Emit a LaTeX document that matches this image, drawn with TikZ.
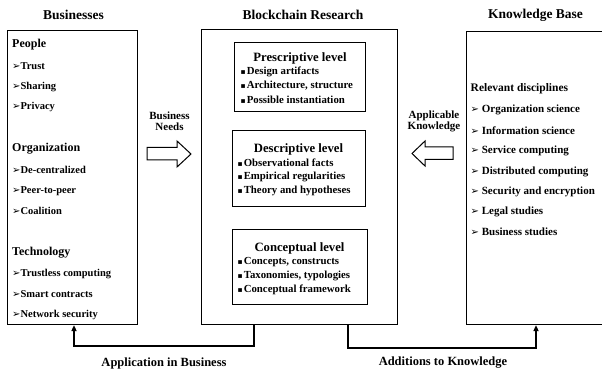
\documentclass[tikz,border=0pt]{standalone}
\usepackage{fontspec}
\setmainfont{Liberation Serif}
\newfontfamily\dejavu{DejaVu Sans}
\usetikzlibrary{arrows.meta}
\newcommand\arrmark{{\dejavu\fontsize{10}{10}\selectfont ➢}}
\newcommand\bltmark{{\dejavu\fontsize{7.5}{7.5}\selectfont ▪}\kern1pt}
\tikzset{
  box/.style={draw, line width=1.1pt, inner sep=0},
  ttl/.style={font=\fontsize{13.5}{15}\selectfont\bfseries, inner sep=0},
  hd/.style={font=\fontsize{12}{14}\selectfont\bfseries, anchor=west, inner sep=0},
  itm/.style={font=\fontsize{10.5}{12}\selectfont\bfseries, anchor=west, inner sep=0},
  mitm/.style={font=\fontsize{10.8}{12}\selectfont\bfseries, anchor=west, inner sep=0},
  kitm/.style={font=\fontsize{11}{13}\selectfont\bfseries, anchor=west, inner sep=0},
  lvl/.style={font=\fontsize{12.7}{14}\selectfont\bfseries, inner sep=0},
  lab/.style={font=\fontsize{11}{13}\selectfont\bfseries, align=center, inner sep=0},
  blab/.style={font=\fontsize{12.5}{14}\selectfont\bfseries, inner sep=0},
  conn/.style={line width=2pt, -{Triangle[length=6pt,width=5pt]}},
  barrow/.style={draw, line width=1pt, fill=white}
}
\begin{document}
\begin{tikzpicture}[x=1pt,y=-1pt]
\useasboundingbox (0,0) rectangle (602,374);
% titles
\node[ttl] (t1) at (73.5,15) {Businesses};
\node[ttl] (t2) at (303,15) {Blockchain Research};
\node[ttl] (t3) at (535.5,15) {Knowledge Base};
% main boxes
\node[box, anchor=north west, minimum width=130pt, minimum height=294pt] (biz) at (7,30) {};
\node[box, anchor=north west, minimum width=196pt, minimum height=295pt] (mid) at (201,29) {};
\node[box, anchor=north west, minimum width=150pt, minimum height=293pt] (kb) at (466,31) {};
% left box contents
\node[hd] (p0) at (12,45) {People};
\node[itm] (p1) at (12,66) {\arrmark Trust};
\node[itm] (p2) at (12,87) {\arrmark Sharing};
\node[itm] (p3) at (12,107) {\arrmark Privacy};
\node[hd] (o0) at (12,149) {Organization};
\node[itm] (o1) at (12,170) {\arrmark De-centralized};
\node[itm] (o2) at (12,191) {\arrmark Peer-to-peer};
\node[itm] (o3) at (12,211) {\arrmark Coalition};
\node[hd] (c0) at (12,253) {Technology};
\node[itm] (c1) at (12,274) {\arrmark Trustless computing};
\node[itm] (c2) at (12,294) {\arrmark Smart contracts};
\node[itm] (c3) at (12,315) {\arrmark Network security};
% inner boxes
\node[box, anchor=north west, minimum width=131pt, minimum height=69pt] (pres) at (234,42) {};
\node[box, anchor=north west, minimum width=133pt, minimum height=76pt] (desc) at (232,130) {};
\node[box, anchor=north west, minimum width=135pt, minimum height=75pt] (conc) at (232,229) {};
\node[lvl] (pr0) at (300,58) {Prescriptive level};
\node[mitm] (pr1) at (240.5,72) {\bltmark Design artifacts};
\node[mitm] (pr2) at (240.5,86) {\bltmark Architecture, structure};
\node[mitm] (pr3) at (240.5,99.5) {\bltmark Possible instantiation};
\node[lvl] (de0) at (298.5,149) {Descriptive level};
\node[mitm] (de1) at (237.5,163) {\bltmark Observational facts};
\node[mitm] (de2) at (237.5,177) {\bltmark Empirical regularities};
\node[mitm] (de3) at (237.5,191) {\bltmark Theory and hypotheses};
\node[lvl] (co0) at (299.5,248) {Conceptual level};
\node[mitm] (co1) at (237.5,262) {\bltmark Concepts, constructs};
\node[mitm] (co2) at (237.5,276) {\bltmark Taxonomies, typologies};
\node[mitm] (co3) at (237.5,289.5) {\bltmark Conceptual framework};
% right box contents
\node[hd, font=\fontsize{11.5}{13}\selectfont\bfseries] (k0) at (470.5,89) {Relevant disciplines};
\node[kitm] (k1) at (470.5,110) {\arrmark\ Organization science};
\node[kitm] (k2) at (470.5,130.5) {\arrmark\ Information science};
\node[kitm] (k3) at (470.5,151) {\arrmark\ Service computing};
\node[kitm] (k4) at (470.5,171.5) {\arrmark\ Distributed computing};
\node[kitm] (k5) at (470.5,192) {\arrmark\ Security and encryption};
\node[kitm] (k6) at (470.5,212) {\arrmark\ Legal studies};
\node[kitm] (k7) at (470.5,232) {\arrmark\ Business studies};
% block arrows
\draw[barrow] (147,147.5) -- (177,147.5) -- (177,141) -- (191,154) -- (177,167) -- (177,160) -- (147,160) -- cycle;
\draw[barrow] (453,147) -- (425,147) -- (425,141) -- (412,153.5) -- (425,166) -- (425,159.5) -- (453,159.5) -- cycle;
\node[lab] (bn) at (169.5,121) {Business\\[-1.5pt]Needs};
\node[lab] (ak) at (434,121.5) {Applicable\\[-1.5pt]Knowledge};
% bottom connectors
\coordinate (a1) at (254,346);
\coordinate (a2) at (74,346);
\coordinate (b1) at (348,347.5);
\coordinate (b2) at (536,347.5);
\draw[conn] (mid.south -| a1) -- (a1) -- (a2) -- (biz.south -| a2);
\draw[conn] (mid.south -| b1) -- (b1) -- (b2) -- (kb.south -| b2);
\node[blab] (l1) at (164,363) {Application in Business};
\node[blab] (l2) at (443,363) {Additions to Knowledge};
\end{tikzpicture}
\end{document}
